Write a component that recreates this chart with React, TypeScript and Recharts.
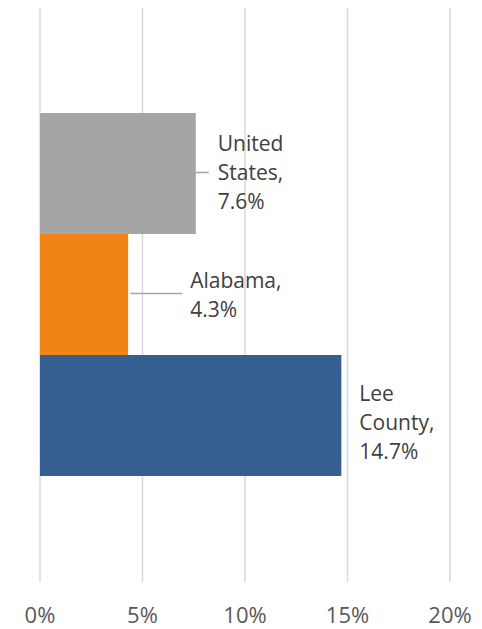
import { useEffect } from "react";
import { BarChart, Bar, XAxis, YAxis, CartesianGrid } from "recharts";

const seriesKeys = ["us", "al", "lee"];
const seriesNames = [["United", "States,"], ["Alabama,"], ["Lee", "County,"]];
const seriesValues = [7.6, 4.3, 14.7];
const xTicks = [0, 5, 10, 15, 20];

const COLORS = ["#A5A5A5", "#F08515", "#355F91"];

// label placement relative to bar end / bar center
const LABEL_POS = [
    { dx: 22, dy: -23, lineFrom: 0, lineTo: 13 },
    { dx: 62, dy: -6.5, lineFrom: 2, lineTo: 54 },
    { dx: 18, dy: -14.5, lineFrom: 0, lineTo: 0 },
];

const row: Record<string, string | number> = { cat: "rate" };
seriesKeys.forEach((k, i) => {
    row[k] = seriesValues[i];
});
const data = [row];

const FONT = "'Open Sans', sans-serif";

function makeLabel(i: number) {
    return (props: any) => {
        const { x, y, width, height, value } = props;
        const endX = Number(x) + Number(width);
        const cy = Number(y) + Number(height) / 2;
        const pos = LABEL_POS[i];
        const lines = [...seriesNames[i], `${value}%`];
        return (
            <g>
                {pos.lineTo > pos.lineFrom && (
                    <line
                        x1={endX + pos.lineFrom}
                        x2={endX + pos.lineTo}
                        y1={cy - 1}
                        y2={cy - 1}
                        stroke="#A6A6A6"
                        strokeWidth={1.5}
                    />
                )}
                {lines.map((t, j) => (
                    <text
                        key={j}
                        x={endX + pos.dx}
                        y={cy + pos.dy + j * 29}
                        fill="#404040"
                        fontSize={21}
                        fontFamily={FONT}
                    >
                        {t}
                    </text>
                ))}
            </g>
        );
    };
}

const renderTick = (props: any) => {
    const { x, payload } = props;
    return (
        <text
            x={x}
            y={623}
            textAnchor="middle"
            fill="#595959"
            fontSize={22}
            fontFamily={FONT}
        >
            {`${payload.value}%`}
        </text>
    );
};

export default function App() {
    useEffect(() => {
        document.body.style.margin = "0";
    }, []);

    return (
        <div style={{ width: 482, height: 629, background: "#fff" }}>
            <BarChart
                width={482}
                height={629}
                data={data}
                layout="vertical"
                margin={{ top: 8, right: 32, left: 40, bottom: 0 }}
                barCategoryGap={105}
                barGap={0}
            >
                <CartesianGrid
                    horizontal={false}
                    stroke="#D9D9D9"
                    strokeWidth={1.5}
                />
                <XAxis
                    type="number"
                    domain={[0, 20]}
                    ticks={xTicks}
                    axisLine={false}
                    tickLine={false}
                    tick={renderTick}
                    height={47}
                />
                <YAxis type="category" dataKey="cat" hide />
                {seriesKeys.map((k, i) => (
                    <Bar
                        key={k}
                        dataKey={k}
                        fill={COLORS[i]}
                        isAnimationActive={false}
                        label={makeLabel(i)}
                    />
                ))}
            </BarChart>
        </div>
    );
}
